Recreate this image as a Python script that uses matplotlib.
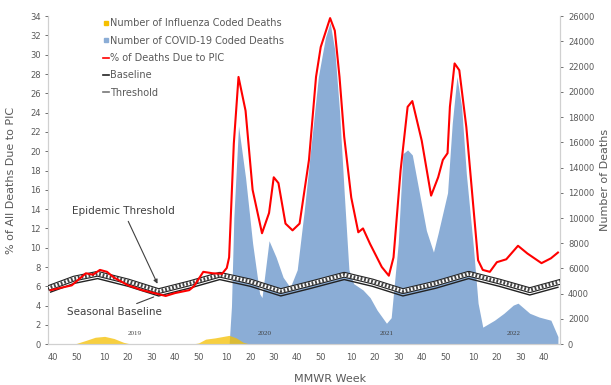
import matplotlib
matplotlib.use("Agg")
import matplotlib.pyplot as plt
from matplotlib.lines import Line2D
from matplotlib.patches import Patch

# MMWR week index: 0 = 2018 week 40 (2018: 52 weeks, 2019: 52, 2020: 53, 2021: 52)
year_start = {2018: -39, 2019: 13, 2020: 65, 2021: 118, 2022: 170}

# % of deaths due to PIC
pic_wk = [0, 9, 15, 18, 21, 24, 27, 33, 39, 44, 49, 53, 59, 61, 65, 69, 73, 75, 76,
          78, 80, 83, 86, 90, 93, 95, 97, 100, 103, 106, 110, 113, 115, 119, 121, 123,
          125, 128, 131, 133, 136, 141, 144, 146, 149, 152, 154, 158, 162, 165, 167,
          169, 170, 172, 174, 177, 180, 182, 184, 187, 190, 194, 199, 203, 209, 213, 216]
pic_pct = [5.6, 6.1, 7.35, 7.2, 7.7, 7.5, 6.9, 6.1, 5.6, 5.3, 5.0, 5.3, 5.6, 6.0, 7.5,
           7.35, 7.3, 7.9, 9.0, 20.8, 27.7, 24.2, 16.0, 11.5, 13.6, 17.3, 16.7, 12.5,
           11.8, 12.5, 19.1, 27.7, 30.8, 33.8, 32.5, 27.7, 21.5, 15.2, 11.6, 12.0, 10.4,
           8.0, 7.1, 9.0, 18.0, 24.6, 25.2, 21.1, 15.4, 17.3, 19.1, 19.8, 24.6, 29.1,
           28.4, 22.5, 14.2, 8.7, 7.7, 7.5, 8.5, 8.8, 10.2, 9.4, 8.4, 8.9, 9.5]

# seasonal baseline and epidemic threshold
base_wk = [0, 10, 20, 33, 46, 59, 72, 85, 98, 111, 125, 137, 150, 164, 178, 191, 204, 216]
baseline = [5.4, 6.3, 6.8, 6.0, 5.0, 5.8, 6.7, 6.0, 5.0, 5.8, 6.7, 6.0, 5.0, 5.8, 6.8, 6.0, 5.1, 5.9]
threshold = [5.9, 6.8, 7.3, 6.5, 5.5, 6.3, 7.2, 6.5, 5.5, 6.3, 7.2, 6.5, 5.5, 6.3, 7.3, 6.5, 5.6, 6.4]

# COVID-19 coded deaths
covid_wk = [0, 76, 77, 78, 80, 83, 86, 89, 90, 93, 96, 99, 102, 105, 108, 111, 114, 117,
            119, 121, 123, 125, 127, 129, 133, 136, 139, 143, 145, 148, 150, 152, 154, 157,
            160, 163, 165, 167, 169, 171, 173, 175, 177, 180, 182, 184, 189, 193, 197, 199,
            204, 208, 213, 216]
covid_deaths = [0, 0, 3000, 10000, 17300, 13200, 8000, 4000, 3700, 8200, 6900, 5300,
                4500, 5900, 10600, 15900, 21200, 24300, 25500, 23300, 18500, 12000, 5900,
                4800, 4300, 3700, 2700, 1660, 2100, 8000, 15100, 15400, 15000, 12000, 9000,
                7300, 8800, 10400, 12000, 17500, 21200, 18800, 13500, 7700, 3250, 1350,
                1900, 2450, 3100, 3250, 2450, 2150, 1900, 600]

# influenza coded deaths
flu_wk = [0, 8, 11, 15, 19, 23, 27, 31, 34, 38, 60, 63, 66, 70, 73, 76, 79, 82, 85, 216]
flu_deaths = [0, 0, 60, 300, 550, 620, 450, 150, 20, 0, 0, 100, 400, 500, 600, 700, 500, 150, 0, 0]

season_labels = ["2019", "2020", "2021", "2022"]
season_wk = [36, 91, 143, 197]

gray = "#595959"
blue = "#8badd6"
yellow = "#f5c000"

fig = plt.figure(figsize=(6.11, 3.85), dpi=100)
ax = fig.add_axes([0.079, 0.106, 0.838, 0.852])
ax2 = ax.twinx()

ax2.fill_between(covid_wk, covid_deaths, color=blue, lw=0, zorder=1)
ax2.fill_between(flu_wk, flu_deaths, color=yellow, lw=0, alpha=0.75, zorder=2)
ax2.set_ylim(0, 26000)
ax2.set_yticks(range(0, 26001, 2000))

ax.set_zorder(ax2.get_zorder() + 1)
ax.patch.set_visible(False)

ax.plot(base_wk, threshold, color="#222222", lw=4.2, zorder=3)
ax.plot(base_wk, threshold, color="white", lw=2.6, zorder=3)
ax.plot(base_wk, threshold, color="#444444", lw=2.6, ls=(0, (0.5, 0.5)), zorder=3)
ax.plot(base_wk, baseline, color="#222222", lw=1.0, zorder=3)
ax.plot(pic_wk, pic_pct, color="#ff0000", lw=1.5, zorder=4)

ax.set_ylim(0, 34)
ax.set_yticks(range(0, 35, 2))
ax.set_xlim(-1, 217)

# x ticks every 10 MMWR weeks
ticks, labels = [], []
for yr, start in year_start.items():
    for w in range(10, 54, 10):
        i = start + w
        if -1 <= i <= 212 and (yr < 2022 or w <= 40) and not (yr == 2020 and w == 53):
            ticks.append(i)
            labels.append(str(w))
ax.set_xticks(ticks)
ax.set_xticklabels(labels)

for a in (ax, ax2):
    a.tick_params(labelsize=6, colors=gray, length=2, width=0.6)
    for s in a.spines.values():
        s.set_color("#d0d0d0")
        s.set_linewidth(0.8)
    a.spines["top"].set_visible(False)
ax.tick_params(axis="x", length=0, pad=6)

for lab, wk in zip(season_labels, season_wk):
    ax.text(wk, 1.1, lab, fontsize=5, color="#404040", ha="center", va="center",
            family="Liberation Serif")

ax.annotate("Epidemic Threshold", xy=(46, 6.0), xytext=(31, 13.8), fontsize=7.5,
            color="#404040", ha="center", va="center",
            arrowprops=dict(arrowstyle="-|>", color="#404040", lw=0.8, mutation_scale=6))
ax.annotate("Seasonal Baseline", xy=(45, 5.0), xytext=(27, 3.3), fontsize=7.5,
            color="#404040", ha="center", va="center",
            arrowprops=dict(arrowstyle="-", color="#404040", lw=0.8))

ax.set_ylabel("% of All Deaths Due to PIC", fontsize=8, color=gray, labelpad=10)
ax2.set_ylabel("Number of Deaths", fontsize=8, color=gray, labelpad=4)
ax.set_xlabel("MMWR Week", fontsize=8, color=gray, labelpad=14)
ax.xaxis.set_label_coords(0.55, -0.09)

handles = [
    Line2D([], [], marker="s", ls="none", color=yellow, markersize=3.5),
    Line2D([], [], marker="s", ls="none", color=blue, markersize=3.5),
    Line2D([], [], color="#ff0000", lw=1.2),
    Line2D([], [], color="#222222", lw=1.2),
    Line2D([], [], color="#777777", lw=1.2),
]
names = ["Number of Influenza Coded Deaths", "Number of COVID-19 Coded Deaths",
         "% of Deaths Due to PIC", "Baseline", "Threshold"]
ax.legend(handles, names, loc="upper left", bbox_to_anchor=(0.09, 1.02), frameon=False,
          fontsize=7, labelcolor=gray, handlelength=0.6, handletextpad=0.1,
          labelspacing=0.75)

fig.savefig("out.png", dpi=100)
